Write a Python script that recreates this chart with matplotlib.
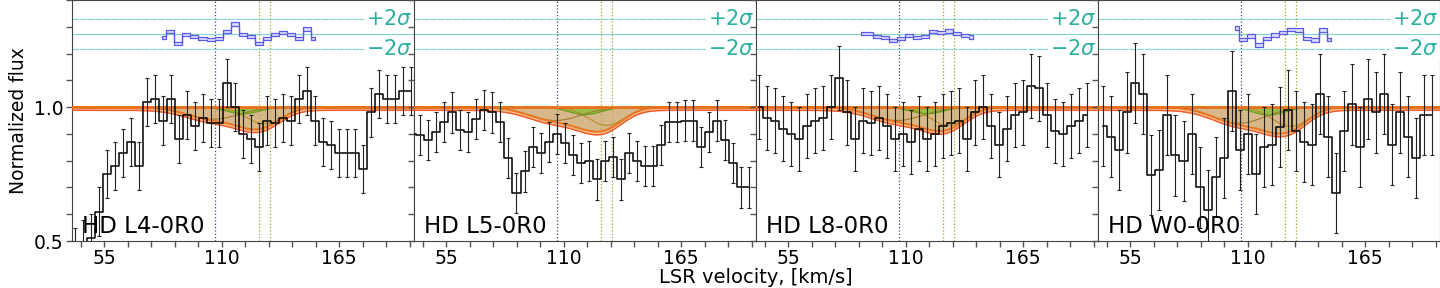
import numpy as np
import matplotlib
matplotlib.use("Agg")
import matplotlib.pyplot as plt
from matplotlib.ticker import MultipleLocator

# spectra: normalized flux per velocity bin
bin_width = 3.75
first_bin = [41.3, 39.2, 41.3, 42.5]
labels = ["HD L4-0R0", "HD L5-0R0", "HD L8-0R0", "HD W0-0R0"]

flux_l4 = [0.46, 0.49, 0.51, 0.61, 0.75, 0.78, 0.83, 0.87, 0.78, 1.02, 1.03, 0.95,
           1.03, 0.88, 0.97, 0.93, 0.96, 0.94, 0.94, 1.09, 1.00, 0.90, 0.88, 0.85,
           0.95, 0.94, 0.96, 0.95, 1.03, 1.06, 0.95, 0.87, 0.86, 0.83, 0.83, 0.83,
           0.77, 0.98, 1.05, 1.03, 1.03, 1.06, 1.06]
flux_l5 = [0.90, 0.895, 0.877, 0.908, 0.945, 0.98, 0.914, 0.908, 0.955, 0.99, 0.98,
           0.945, 0.81, 0.68, 0.76, 0.85, 0.83, 0.87, 0.90, 0.866, 0.82, 0.79, 0.80,
           0.73, 0.80, 0.815, 0.73, 0.83, 0.80, 0.78, 0.78, 0.86, 0.945, 0.945, 0.95,
           0.95, 0.85, 0.908, 0.95, 0.877, 0.79, 0.70, 0.70]
flux_l8 = [1.00, 0.96, 0.95, 0.92, 0.90, 0.88, 0.93, 0.95, 0.96, 1.00, 1.11, 0.98,
           0.88, 0.95, 0.94, 0.96, 0.93, 0.88, 0.90, 0.87, 0.92, 0.88, 0.90, 0.93,
           0.94, 0.95, 0.88, 0.98, 1.00, 0.93, 0.86, 0.92, 0.97, 0.98, 1.08, 1.07,
           0.97, 0.91, 0.90, 0.93, 0.95, 0.97]
flux_w0 = [0.93, 0.89, 0.84, 0.98, 1.09, 1.05, 0.746, 0.765, 0.97, 0.82, 0.80, 0.90,
           0.70, 0.616, 0.74, 0.81, 1.06, 0.84, 0.90, 0.75, 0.85, 0.86, 0.925, 0.99,
           0.91, 0.87, 0.86, 1.05, 0.89, 0.68, 0.91, 1.01, 0.85, 1.03, 0.98, 1.05,
           0.86, 0.98, 0.89, 0.81, 0.97, 0.97]
flux_err = [0.09, 0.075, 0.12, 0.15]

# fit residuals in units of sigma
res_start = [82.3, None, 89.0, 104.0]
res_l4 = [-0.44, 0.31, -1.24, -0.04, -0.36, -0.6, -0.71, -0.6, 0.31, 1.33, -0.04,
          -0.36, -1.24, -0.57, -0.04, 0.23, -0.04, -0.57, 0.67, -0.57]
res_l5 = []
res_l8 = [0.1, 0.1, -0.3, -0.5, -0.9, -0.6, -0.2, -0.5, -0.3, 0.3, 0.2, 0.4, 0.1,
          -0.2, -0.4]
res_w0 = [0.8, -0.7, -0.27, -1.47, -0.57, -0.13, 0.23, 0.63, 0.53, -0.57, -0.8,
          0.53, -0.7]

# absorption components: center, depth, width (km/s)
comp_center = [106.0, 130.0, 120.0]
comp_depth = [[0.045, 0.062, 0.025], [0.05, 0.068, 0.028],
              [0.05, 0.068, 0.025], [0.06, 0.072, 0.03]]
comp_width = [12.0, 8.5, 7.5]
line_pos = [107.0, 127.5, 132.5]

all_flux = [flux_l4, flux_l5, flux_l8, flux_w0]
all_res = [res_l4, res_l5, res_l8, res_w0]

res_level = 1.273
sigma_flux = 0.028
teal = "#2bb0a0"

fig, axes = plt.subplots(1, 4, figsize=(14.4, 2.88), dpi=100, sharey=True)
plt.subplots_adjust(left=0.05, right=1.0, bottom=0.163, top=1.0, wspace=0)

vgrid = np.linspace(40, 200, 800)

for k, ax in enumerate(axes):
    flux = np.array(all_flux[k])
    v = first_bin[k] + bin_width * np.arange(len(flux))

    # model components
    profiles = []
    for c, d, w in zip(comp_center, comp_depth[k], comp_width):
        profiles.append(1 - d * np.exp(-0.5 * ((vgrid - c) / w) ** 2))
    total = np.prod(profiles, axis=0)
    ax.fill_between(vgrid, total - 0.012, total, color="#f6b98c", lw=0, zorder=2)
    ax.fill_between(vgrid, total, 1, color="#caa063", alpha=0.75, lw=0, zorder=2)
    ax.fill_between(vgrid, profiles[2], 1, color="#8fbf3a", alpha=0.85, lw=0, zorder=3)
    ax.plot(vgrid, profiles[0], color="#a07a30", lw=0.8, zorder=4)
    ax.plot(vgrid, profiles[1], color="#b88a2a", lw=0.8, zorder=4)
    ax.plot(vgrid, profiles[2], color="#6a9a20", lw=0.8, zorder=4)
    ax.plot(vgrid, total - 0.012, color="#f05a28", lw=1.0, zorder=5)
    ax.plot(vgrid, total, color="#e8761e", lw=1.4, zorder=5)
    ax.axhline(1.0, color="#e8701a", lw=2, zorder=6)

    # data
    ax.step(v, flux, where="mid", color="black", lw=1.1, zorder=7)
    ax.errorbar(v, flux, yerr=flux_err[k], fmt="none", ecolor="#222222",
                elinewidth=0.8, capsize=1.5, capthick=0.8, zorder=7)

    for x, col in zip(line_pos, ["#3a4f6a", "#a8a020", "#a8a020"]):
        ax.axvline(x, color=col, ls=":", lw=0.9, zorder=1)

    # residuals
    ax.axhline(res_level, color="#7fd6cc", lw=0.8, zorder=1)
    for s in (2, -2):
        ax.axhline(res_level + s * sigma_flux, color="#7fd6cc", lw=0.8, ls=(0, (6, 1)), zorder=1)
    ax.text(0.995, (res_level + 2 * sigma_flux - 0.5) / 0.9, r"$+2\sigma$", color=teal,
            fontsize=15, ha="right", va="center", transform=ax.transAxes,
            bbox=dict(facecolor="white", edgecolor="none", pad=1), zorder=8)
    ax.text(0.995, (res_level - 2 * sigma_flux - 0.5) / 0.9, r"$-2\sigma$", color=teal,
            fontsize=15, ha="right", va="center", transform=ax.transAxes,
            bbox=dict(facecolor="white", edgecolor="none", pad=1), zorder=8)
    if all_res[k]:
        r = np.array(all_res[k])
        vr = res_start[k] + bin_width * np.arange(len(r))
        y = res_level + r * sigma_flux
        ax.fill_between(vr, y - 0.006, y + 0.006, step="mid", facecolor="#dcdcff",
                        edgecolor="#5a5ae8", lw=0.9, zorder=6)

    ax.text(0.03, 0.035, labels[k], transform=ax.transAxes, fontsize=16.5, zorder=9)

    ax.set_xlim(40, 200)
    ax.set_ylim(0.5, 1.4)
    ax.xaxis.set_major_locator(MultipleLocator(55))
    ax.xaxis.set_minor_locator(MultipleLocator(11))
    ax.yaxis.set_major_locator(MultipleLocator(0.5))
    ax.yaxis.set_minor_locator(MultipleLocator(0.1))
    ax.tick_params(which="both", direction="out", labelsize=13.5, length=4, width=1,
                   color="#555555", pad=2)
    for sp in ax.spines.values():
        sp.set_color("#444444")

axes[0].set_ylabel("Normalized flux", fontsize=13.5)
fig.text(0.525, 0.003, "LSR velocity, [km/s]", ha="center", va="bottom", fontsize=14)

fig.savefig("out.png", dpi=100)
